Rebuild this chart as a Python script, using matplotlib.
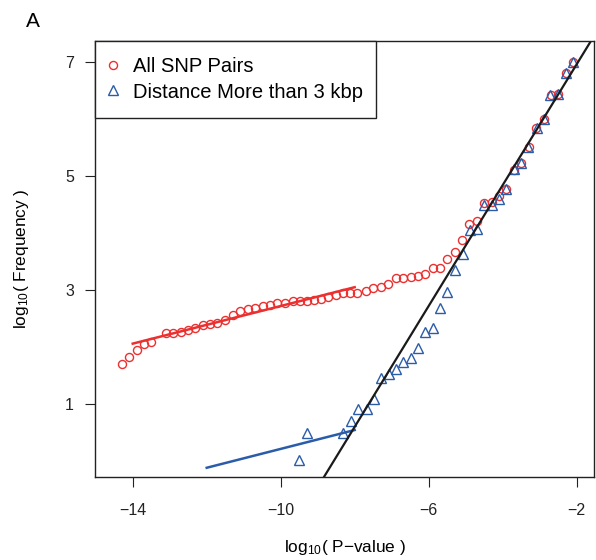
import matplotlib
matplotlib.use("Agg")
import matplotlib.pyplot as plt
from matplotlib.patches import Rectangle
import numpy as np

plt.rcParams['font.family'] = ['Liberation Sans', 'DejaVu Sans']
plt.rcParams['mathtext.default'] = 'regular'

# all SNP pairs: log10 p-value bins vs log10 frequency
all_x = [-14.30, -14.09, -13.89, -13.70, -13.50, -13.10, -12.90, -12.70, -12.50, -12.31,
         -12.11, -11.91, -11.71, -11.51, -11.30, -11.10, -10.88, -10.70, -10.49, -10.29,
         -10.11, -9.88, -9.68, -9.48, -9.30, -9.10, -8.91, -8.71, -8.51, -8.31,
         -8.13, -7.93, -7.70, -7.50, -7.30, -7.09, -6.88, -6.69, -6.49, -6.29,
         -6.09, -5.89, -5.70, -5.50, -5.30, -5.10, -4.90, -4.70, -4.51, -4.30,
         -4.10, -3.91, -3.68, -3.49, -3.30, -3.09, -2.89, -2.70, -2.50, -2.30, -2.10]
all_y = [1.71, 1.83, 1.95, 2.05, 2.08, 2.24, 2.24, 2.26, 2.30, 2.33,
         2.38, 2.40, 2.43, 2.47, 2.56, 2.64, 2.66, 2.69, 2.72, 2.74,
         2.77, 2.78, 2.80, 2.81, 2.81, 2.83, 2.84, 2.88, 2.91, 2.94,
         2.94, 2.95, 2.99, 3.03, 3.05, 3.10, 3.21, 3.22, 3.23, 3.25,
         3.28, 3.38, 3.39, 3.54, 3.66, 3.87, 4.16, 4.21, 4.53, 4.55,
         4.65, 4.78, 5.11, 5.23, 5.51, 5.84, 6.00, 6.43, 6.44, 6.80, 7.00]

# pairs more than 3 kbp apart
far_x = [-9.50, -9.30, -8.31, -8.11, -7.90, -7.68, -7.47, -7.30, -7.08, -6.88,
         -6.70, -6.49, -6.30, -6.10, -5.89, -5.70, -5.50, -5.29, -5.08, -4.88,
         -4.69, -4.50, -4.28, -4.09, -3.90, -3.68, -3.49, -3.31, -3.08, -2.88,
         -2.71, -2.50, -2.30, -2.10]
far_y = [0.01, 0.49, 0.49, 0.71, 0.91, 0.91, 1.08, 1.46, 1.53, 1.61,
         1.74, 1.80, 1.99, 2.26, 2.33, 2.68, 2.96, 3.35, 3.63, 4.06,
         4.08, 4.49, 4.50, 4.60, 4.78, 5.12, 5.23, 5.51, 5.85, 6.00,
         6.43, 6.44, 6.81, 7.00]

# fitted lines (intercept, slope, x range)
red_fit = (4.37, 0.165, [-14, -8])
blue_fit = (1.868, 0.1655, [-12, -8])
black_fit = (9.08, 1.06)

red = '#EC3030'
blue = '#2B5CAA'

fig = plt.figure(figsize=(5.96, 5.6), dpi=100)
ax = fig.add_axes([95/596, 1-477/560, 499/596, 436/560])

ax.plot(all_x, all_y, 'o', ms=5.8, mfc='none', mec=red, mew=1.0, label='All SNP Pairs')
ax.plot(far_x, far_y, '^', ms=6.8, mfc='none', mec=blue, mew=1.0, label='Distance More than 3 kbp')

xs = np.array(red_fit[2])
ax.plot(xs, red_fit[0] + red_fit[1]*xs, color=red, lw=1.8)
xs = np.array(blue_fit[2])
ax.plot(xs, blue_fit[0] + blue_fit[1]*xs, color=blue, lw=1.8)
ax.axline((0, black_fit[0]), slope=black_fit[1], color='#1a1a1a', lw=1.6)

ax.set_xlim(-15.02, -1.53)
ax.set_ylim(-0.28, 7.37)
ax.set_xticks([-14, -10, -6, -2])
ax.set_yticks([1, 3, 5, 7])
ax.tick_params(direction='out', length=7.2, width=0.8, labelsize=11.5, colors='#222222')
ax.tick_params(axis='x', pad=11.5)
ax.tick_params(axis='y', pad=8)
for s in ax.spines.values():
    s.set_linewidth(1.0)
    s.set_color('#222222')

ax.set_xlabel('log$_{10}$( P\u2212value )', fontsize=12.4)
ax.set_ylabel('log$_{10}$( Frequency )', fontsize=12.4)
ax.xaxis.set_label_coords(0.5, -0.14)
ax.yaxis.set_label_coords(-0.128, 0.5)

# legend box in the top-left corner
ax.add_patch(Rectangle((0, 1-77/436), 281/499, 77/436, transform=ax.transAxes,
                       facecolor='white', edgecolor='#222222', lw=1.0, zorder=4, clip_on=False))
leg = ax.legend(loc='center left', bbox_to_anchor=(8/499, 1-38.5/436), frameon=False,
                fontsize=14.5, handlelength=1.0, handletextpad=0.5, borderpad=0,
                borderaxespad=0, labelspacing=0.3)
leg.set_zorder(5)

fig.text(26/596, 1-26.7/560, 'A', fontsize=15, va='baseline', ha='left')

fig.savefig('out.png', dpi=100)
